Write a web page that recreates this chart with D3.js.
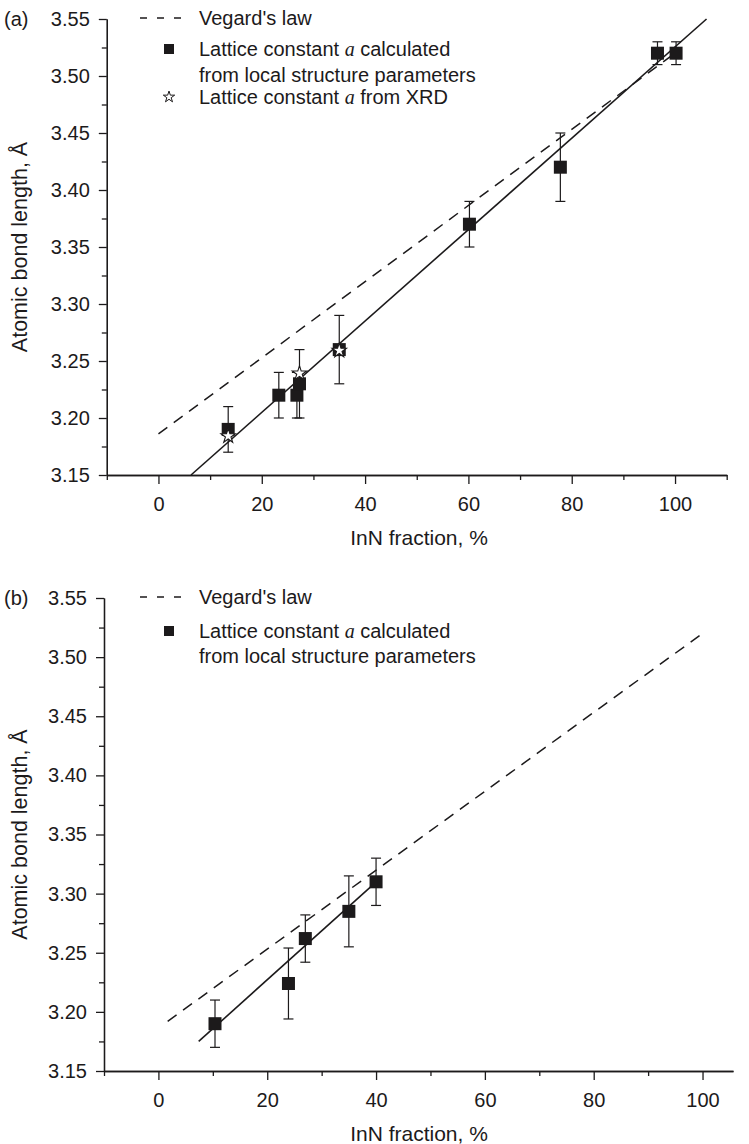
<!DOCTYPE html>
<html>
<head>
<meta charset="utf-8">
<script src="https://cdn.jsdelivr.net/npm/d3@7"></script>
<style>
  body { margin: 0; background: #fff; }
  svg { display: block; font-family: "Liberation Sans", Arial, sans-serif; }
</style>
</head>
<body>
<div id="chart"></div>
<script>
// Panel (a) data
const calcA_x   = [13.5, 23.3, 26.8, 27.3, 35.0, 60.2, 77.8, 96.6, 100.2];
const calcA_y   = [3.19, 3.22, 3.22, 3.23, 3.26, 3.37, 3.42, 3.52, 3.52];
const calcA_err = [0.02, 0.02, 0.02, 0.03, 0.03, 0.02, 0.03, 0.01, 0.01];
const xrdA_x    = [13.5, 27.3, 35.0];
const xrdA_y    = [3.185, 3.24, 3.26];
const vegardA   = [[0, 3.186], [100, 3.52]];
const fitA      = [[6.3, 3.15], [106.1, 3.55]];

// Panel (b) data
const calcB_x   = [10.4, 23.9, 27.0, 35.0, 40.0];
const calcB_y   = [3.19, 3.224, 3.262, 3.285, 3.31];
const calcB_err = [0.02, 0.03, 0.02, 0.03, 0.02];
const vegardB   = [[1.7, 3.192], [100, 3.52]];
const fitB      = [[7.4, 3.175], [41.0, 3.314]];

// Ticks
const yMajor = [3.15, 3.20, 3.25, 3.30, 3.35, 3.40, 3.45, 3.50, 3.55];
const yMinor = [3.175, 3.225, 3.275, 3.325, 3.375, 3.425, 3.475, 3.525];
const xMajor = [0, 20, 40, 60, 80, 100];
const xMinorA = [-10, 10, 30, 50, 70, 90, 110];
const xMinorB = [-10, 10, 30, 50, 70, 90];

const W = 749, H = 1144;
const ink = '#1c1a1b';

const svg = d3.select('#chart').append('svg')
  .attr('width', W).attr('height', H);
svg.append('rect').attr('width', W).attr('height', H).attr('fill', '#fff');

function drawPanel(p) {
  const g = svg.append('g');
  const x = d3.scaleLinear().domain(p.xDomain).range(p.xRange);
  const y = d3.scaleLinear().domain([3.15, 3.55]).range(p.yRange);

  // ejes
  g.append('g').attr('transform', `translate(${p.xRange[0]},0)`)
    .call(d3.axisLeft(y).tickValues(yMajor).tickFormat(d3.format('.2f')).tickSize(8).tickSizeOuter(0).tickPadding(9));
  g.append('g').attr('transform', `translate(${p.xRange[0]},0)`)
    .call(d3.axisLeft(y).tickValues(yMinor).tickFormat('').tickSize(5).tickSizeOuter(0));
  g.append('g').attr('transform', `translate(0,${p.yRange[0]})`)
    .call(d3.axisBottom(x).tickValues(xMajor).tickFormat(d3.format('d')).tickSize(9).tickSizeOuter(0).tickPadding(13));
  g.append('g').attr('transform', `translate(0,${p.yRange[0]})`)
    .call(d3.axisBottom(x).tickValues(p.xMinor).tickFormat('').tickSize(5).tickSizeOuter(0));
  g.selectAll('.domain, .tick line').attr('stroke', ink).attr('stroke-width', 1.3);
  g.selectAll('.tick text').attr('fill', ink).style('font-size', '20px')
    .style('font-family', '"Liberation Sans", Arial, sans-serif');

  g.append('text')
    .attr('x', 419)
    .attr('y', p.yRange[0] + 70)
    .attr('text-anchor', 'middle').attr('fill', ink).style('font-size', '21px')
    .text('InN fraction, %');
  g.append('text')
    .attr('transform', `translate(27,${(p.yRange[0] + p.yRange[1]) / 2}) rotate(-90)`)
    .attr('text-anchor', 'middle').attr('fill', ink).style('font-size', '21.5px')
    .text('Atomic bond length, Å');
  g.append('text')
    .attr('x', 4).attr('y', p.yRange[1] + 7)
    .attr('fill', ink).style('font-size', '20px')
    .text(p.label);

  const line = d3.line().x(d => x(d[0])).y(d => y(d[1]));
  g.append('path').datum(p.vegard).attr('d', line)
    .attr('fill', 'none').attr('stroke', ink).attr('stroke-width', 1.5)
    .attr('stroke-dasharray', '11,8');
  g.append('path').datum(p.fit).attr('d', line)
    .attr('fill', 'none').attr('stroke', ink).attr('stroke-width', 1.6);

  // barras de error
  const pts = p.cx.map((v, i) => ({ x: v, y: p.cy[i], e: p.ce[i] }));
  const eb = g.append('g').attr('stroke', ink).attr('stroke-width', 1.2);
  pts.forEach(d => {
    const cx = x(d.x);
    eb.append('line').attr('x1', cx).attr('x2', cx).attr('y1', y(d.y - d.e)).attr('y2', y(d.y + d.e));
    [d.y - d.e, d.y + d.e].forEach(v => {
      eb.append('line').attr('x1', cx - 5).attr('x2', cx + 5).attr('y1', y(v)).attr('y2', y(v));
    });
  });

  const s = 13;
  g.selectAll('rect.pt').data(pts).enter().append('rect')
    .attr('class', 'pt')
    .attr('x', d => x(d.x) - s / 2).attr('y', d => y(d.y) - s / 2)
    .attr('width', s).attr('height', s).attr('fill', ink);

  if (p.sx) {
    g.selectAll('path.star').data(p.sx.map((v, i) => ({ x: v, y: p.sy[i] }))).enter()
      .append('path').attr('class', 'star')
      .attr('transform', d => `translate(${x(d.x)},${y(d.y) + 1})`)
      .attr('d', d3.symbol(d3.symbolStar, 65))
      .attr('fill', '#fff').attr('stroke', ink).attr('stroke-width', 1.1);
  }

  // leyenda
  const lg = g.append('g').attr('transform', `translate(140,${p.yRange[1] - 1})`);
  lg.append('line').attr('x1', 0).attr('x2', 44).attr('y1', 0).attr('y2', 0)
    .attr('stroke', ink).attr('stroke-width', 1.5).attr('stroke-dasharray', '7,10');
  lg.append('text').attr('x', 59).attr('y', 7).attr('fill', ink).style('font-size', '20px').text("Vegard's law");
  lg.append('rect').attr('x', 24).attr('y', p.legStep - 5).attr('width', 10).attr('height', 10).attr('fill', ink);
  const t1 = lg.append('text').attr('x', 59).attr('y', p.legStep + 7).attr('fill', ink).style('font-size', '20px');
  t1.append('tspan').text('Lattice constant ');
  t1.append('tspan').style('font-family', '"Liberation Serif", serif').style('font-style', 'italic').text('a');
  t1.append('tspan').text(' calculated');
  lg.append('text').attr('x', 59).attr('y', p.legStep + p.legLine + 7).attr('fill', ink).style('font-size', '20px')
    .text('from local structure parameters');
  if (p.sx) {
    lg.append('path').attr('transform', `translate(29,${p.legStep * 2 + 17})`)
      .attr('d', d3.symbol(d3.symbolStar, 40))
      .attr('fill', '#fff').attr('stroke', ink).attr('stroke-width', 1);
    const t2 = lg.append('text').attr('x', 59).attr('y', p.legStep * 2 + 24).attr('fill', ink).style('font-size', '20px');
    t2.append('tspan').text('Lattice constant ');
    t2.append('tspan').style('font-family', '"Liberation Serif", serif').style('font-style', 'italic').text('a');
    t2.append('tspan').text(' from XRD');
  }
}

drawPanel({
  label: '(a)', xDomain: [-10, 110], xRange: [106.8, 726.7], yRange: [475, 19],
  xMinor: xMinorA,
  cx: calcA_x, cy: calcA_y, ce: calcA_err, sx: xrdA_x, sy: xrdA_y,
  vegard: vegardA, fit: fitA, legStep: 31, legLine: 26
});
drawPanel({
  label: '(b)', xDomain: [-10, 105.6], xRange: [104, 733], yRange: [1071, 598],
  xMinor: xMinorB,
  cx: calcB_x, cy: calcB_y, ce: calcB_err,
  vegard: vegardB, fit: fitB, legStep: 34, legLine: 25
});
</script>
</body>
</html>
